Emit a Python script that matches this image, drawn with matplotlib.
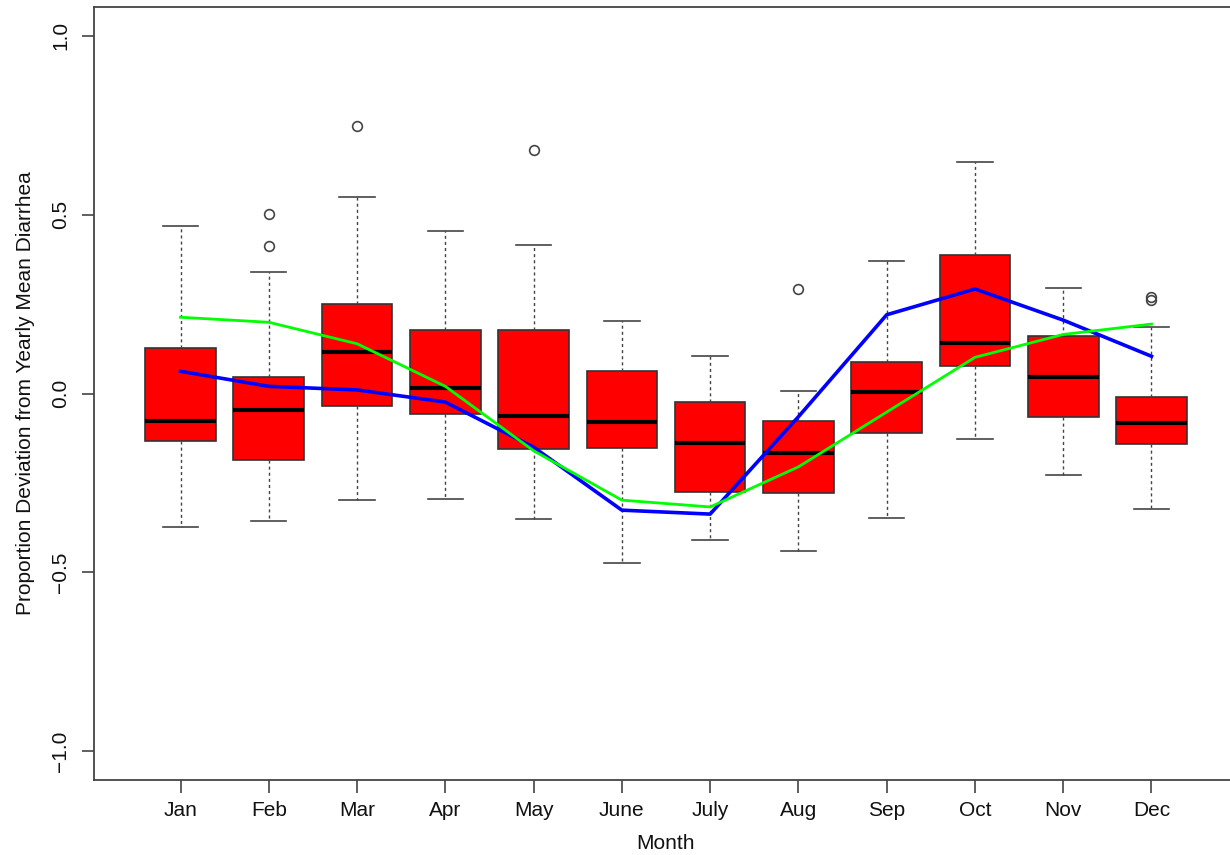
import numpy as np
import matplotlib
matplotlib.use("Agg")
import matplotlib.pyplot as plt

plt.rcParams['font.family'] = ['Liberation Sans', 'DejaVu Sans']

months = ["Jan", "Feb", "Mar", "Apr", "May", "June", "July", "Aug", "Sep", "Oct", "Nov", "Dec"]

# box summaries per month
whisk_lo = [-0.372, -0.355, -0.298, -0.294, -0.350, -0.475, -0.408, -0.439, -0.349, -0.128, -0.229, -0.324]
q1 = [-0.133, -0.187, -0.035, -0.058, -0.156, -0.152, -0.276, -0.278, -0.110, 0.078, -0.067, -0.141]
medians = [-0.077, -0.047, 0.115, 0.014, -0.064, -0.081, -0.138, -0.166, 0.003, 0.140, 0.045, -0.082]
q3 = [0.127, 0.046, 0.249, 0.177, 0.177, 0.063, -0.023, -0.077, 0.089, 0.387, 0.160, -0.009]
whisk_hi = [0.467, 0.339, 0.549, 0.454, 0.414, 0.202, 0.105, 0.008, 0.370, 0.648, 0.296, 0.185]
outliers = [[], [0.501, 0.411], [0.747], [], [0.680], [], [], [0.293], [], [], [], [0.270, 0.262]]

# two seasonal curves drawn on top
blue_curve = [0.062, 0.020, 0.010, -0.024, -0.150, -0.326, -0.337, -0.065, 0.220, 0.292, 0.205, 0.104]
green_curve = [0.213, 0.199, 0.139, 0.020, -0.160, -0.298, -0.317, -0.205, -0.052, 0.101, 0.165, 0.194]

stats = []
for i in range(len(months)):
    stats.append(dict(whislo=whisk_lo[i], q1=q1[i], med=medians[i], q3=q3[i],
                      whishi=whisk_hi[i], fliers=outliers[i], label=months[i]))

fig = plt.figure(figsize=(12.3, 8.55), dpi=100)
ax = fig.add_axes([94 / 1230, 75 / 855, 1144 / 1230, 773 / 855])

pos = np.arange(1, len(months) + 1)
ax.bxp(stats, positions=pos, widths=0.8, capwidths=0.4, patch_artist=True,
       boxprops=dict(facecolor="#ff0000", edgecolor="#333333", linewidth=1.2),
       whiskerprops=dict(color="#444444", linewidth=1.0, linestyle=(0, (2.2, 2.2))),
       capprops=dict(color="#444444", linewidth=1.2),
       medianprops=dict(color="black", linewidth=3),
       flierprops=dict(marker="o", markerfacecolor="none", markeredgecolor="#444444",
                       markersize=7, markeredgewidth=1.2))

ax.plot(pos, blue_curve, color="#0000ff", linewidth=2.6, zorder=5)
ax.plot(pos, green_curve, color="#00ff00", linewidth=2.0, zorder=5)

ax.set_xlim(0.02, 12.98)
ax.set_ylim(-1.08, 1.08)
ax.set_yticks([-1.0, -0.5, 0.0, 0.5, 1.0])
ax.set_yticklabels(["\u22121.0", "\u22120.5", "0.0", "0.5", "1.0"])
ax.set_xticks(pos)
ax.set_xticklabels(months)

ax.tick_params(axis="both", direction="out", length=9, width=1.2, color="#444444",
               labelsize=15, labelcolor="#111111")
ax.tick_params(axis="x", pad=6)
ax.tick_params(axis="y", pad=8)
for lab in ax.get_yticklabels():
    lab.set_rotation(90)
    lab.set_va("center")

for sp in ax.spines.values():
    sp.set_color("#444444")
    sp.set_linewidth(1.3)

ax.set_xlabel("Month", fontsize=15, color="#111111", labelpad=10)
ax.set_ylabel("Proportion Deviation from Yearly Mean Diarrhea", fontsize=15,
              color="#111111", labelpad=12)

fig.savefig("out.png", dpi=100)
